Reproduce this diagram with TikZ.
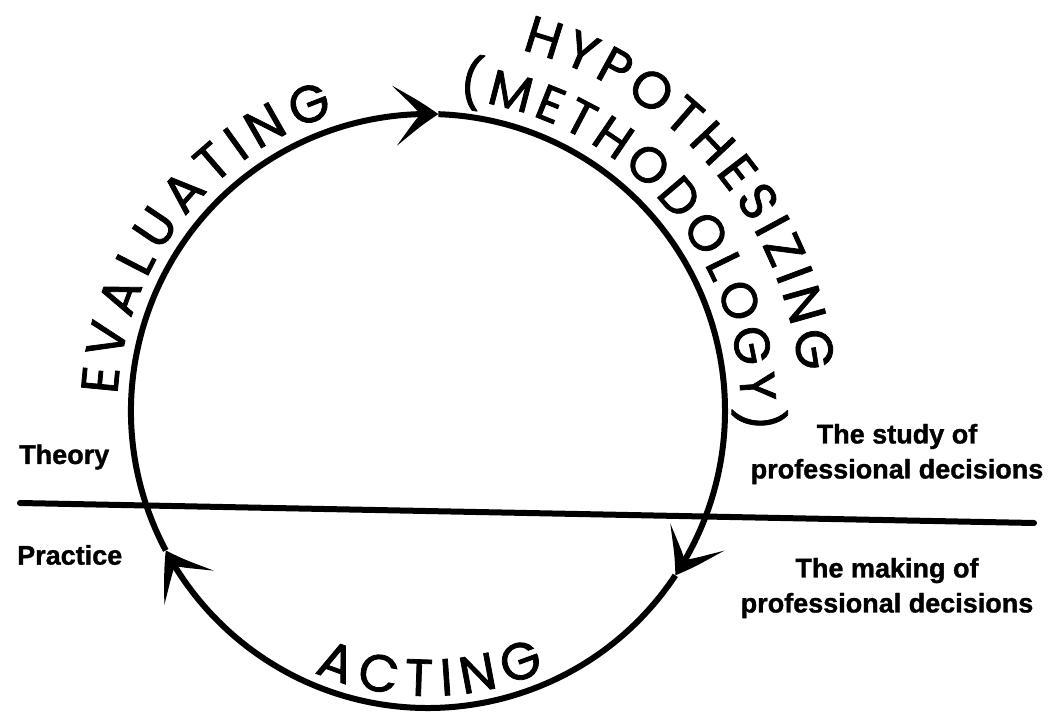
\documentclass[tikz,border=0pt]{standalone}
\usepackage{fontspec}
\setmainfont{Liberation Sans}[BoldFeatures={FakeBold=1.2}]
\newfontfamily\hand{Poppins}[FakeBold=1.5]
\usetikzlibrary{arrows.meta,bending,decorations.text}
\begin{document}
\begin{tikzpicture}[x=1pt,y=1pt,
  circ/.style={line width=6pt},
  tipped/.style={-{Stealth[length=44pt,width=60pt,inset=26pt,bend]}},
  arclabel/.style={decorate,decoration={text along path,text align=fit to path,#1}},
  small/.style={font=\fontsize{27}{35}\selectfont\bfseries, align=center, inner sep=0pt}
]
\useasboundingbox (0,0) rectangle (1048,715);
\coordinate (c) at (428,304);
\coordinate (a1) at ([shift={(208:297)}]c);
\coordinate (a2) at ([shift={(88:297)}]c);
\coordinate (a3) at ([shift={(-33.6:297)}]c);
% circle with three arrows (clockwise)
\draw[circ,tipped] (a1) arc[start angle=208, end angle=88, radius=297];
\draw[circ,tipped] (a2) arc[start angle=88, end angle=-33.6, radius=297];
\draw[circ,tipped] (a3) arc[start angle=326.4, end angle=208, radius=297];
% theory / practice line
\coordinate (hl) at (20,212);
\coordinate (hr) at (1034,192);
\draw[line width=6pt, line cap=round] (hl) -- (hr);
% curved labels
\coordinate (e0) at ([shift={(177:311)}]c);
\path[arclabel={text={|\hand\fontsize{52}{52}\selectfont|EVALUATING}}]
  (e0) arc[start angle=177, end angle=107.5, radius=311];
\coordinate (h0) at ([shift={(75.5:373)}]c);
\path[arclabel={text={|\hand\fontsize{52}{52}\selectfont|HYPOTHESIZING}}]
  (h0) arc[start angle=75.5, end angle=6, radius=373];
\coordinate (m0) at ([shift={(84.5:313)}]c);
\path[arclabel={text={|\hand\fontsize{50}{50}\selectfont|(METHODOLOGY)}}]
  (m0) arc[start angle=84.5, end angle=-3.5, radius=313];
\coordinate (g0) at ([shift={(246.5:285)}]c);
\path[arclabel={text={|\hand\fontsize{52}{52}\selectfont|ACTING}}]
  (g0) arc[start angle=246.5, end angle=294.3, radius=285];
% side texts
\node[small, anchor=west] (theory) at (19,258) {Theory};
\node[small, anchor=west] (practice) at (17,160) {Practice};
\node[small] (study) at (897,261) {The study of\\professional decisions};
\node[small] (making) at (887,127) {The making of\\professional decisions};
\end{tikzpicture}
\end{document}
